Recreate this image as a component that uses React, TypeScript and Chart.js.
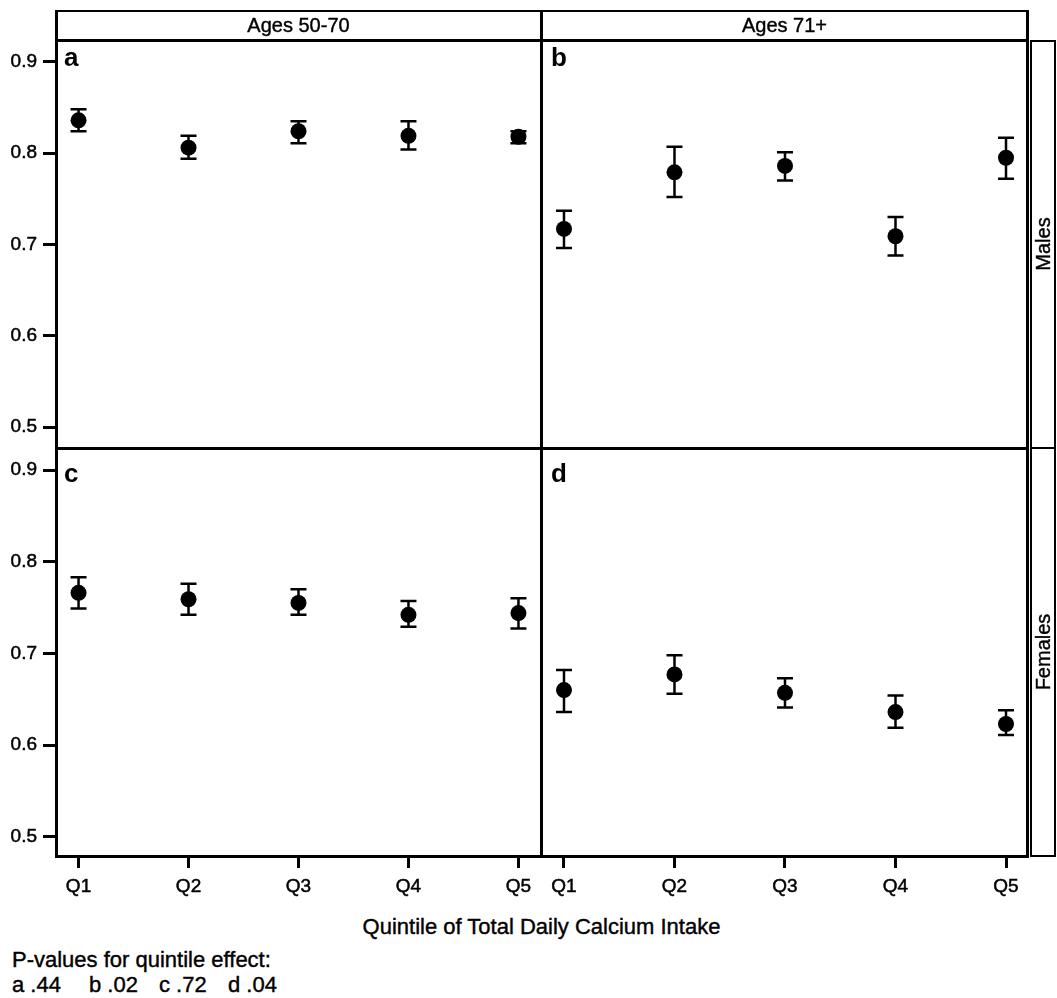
import React, { useEffect, useRef } from "react";
import { Chart, registerables } from "chart.js";

Chart.register(...registerables);

// ---------- data ----------
const quintiles = ["Q1", "Q2", "Q3", "Q4", "Q5"];
const quintilePos = [1, 2, 3, 4, 5];
const yTickValues = [0.5, 0.6, 0.7, 0.8, 0.9];
const ageGroups = ["Ages 50-70", "Ages 71+"];
const sexGroups = ["Males", "Females"];
const panelLetters = ["a", "b", "c", "d"];
const pValues = [".44", ".02", ".72", ".04"];

const meanA = [0.836, 0.806, 0.824, 0.819, 0.818];
const lowA = [0.824, 0.794, 0.811, 0.804, 0.811];
const highA = [0.848, 0.819, 0.835, 0.835, 0.824];

const meanB = [0.717, 0.779, 0.786, 0.709, 0.795];
const lowB = [0.696, 0.752, 0.770, 0.688, 0.772];
const highB = [0.737, 0.807, 0.801, 0.730, 0.817];

const meanC = [0.766, 0.759, 0.755, 0.742, 0.744];
const lowC = [0.749, 0.742, 0.742, 0.729, 0.727];
const highC = [0.783, 0.776, 0.770, 0.757, 0.760];

const meanD = [0.660, 0.677, 0.657, 0.636, 0.623];
const lowD = [0.636, 0.656, 0.641, 0.619, 0.611];
const highD = [0.682, 0.698, 0.673, 0.654, 0.638];

const FONT = "'Liberation Sans', Arial, Helvetica, sans-serif";

const errorBarPlugin = {
  id: "errorBars",
  afterDatasetsDraw(chart: any, _args: any, opts: any) {
    const { ctx } = chart;
    const xs = chart.scales.x;
    const ys = chart.scales.y;
    ctx.save();
    ctx.strokeStyle = "#000";
    ctx.lineWidth = opts.lineWidth;
    const cap = opts.capHalf;
    for (let i = 0; i < opts.xs.length; i++) {
      const px = xs.getPixelForValue(opts.xs[i]);
      const pl = ys.getPixelForValue(opts.low[i]);
      const ph = ys.getPixelForValue(opts.high[i]);
      ctx.beginPath();
      ctx.moveTo(px, pl);
      ctx.lineTo(px, ph);
      ctx.moveTo(px - cap, pl);
      ctx.lineTo(px + cap, pl);
      ctx.moveTo(px - cap, ph);
      ctx.lineTo(px + cap, ph);
      ctx.stroke();
    }
    ctx.restore();
  },
};

type Panel = {
  mean: number[];
  low: number[];
  high: number[];
  left: number;
  top: number;
  width: number;
  height: number;
  showY: boolean;
  showX: boolean;
  xMin: number;
  xMax: number;
  yMin: number;
  yMax: number;
};

const panels: Panel[] = [
  { mean: meanA, low: lowA, high: highA, left: 0, top: 40, width: 541, height: 408, showY: true, showX: false, xMin: 0.795, xMax: 5.205, yMin: 0.477, yMax: 0.924 },
  { mean: meanB, low: lowB, high: highB, left: 541, top: 40, width: 486, height: 408, showY: false, showX: false, xMin: 0.792, xMax: 5.19, yMin: 0.477, yMax: 0.924 },
  { mean: meanC, low: lowC, high: highC, left: 0, top: 448, width: 541, height: 460, showY: true, showX: true, xMin: 0.795, xMax: 5.205, yMin: 0.479, yMax: 0.924 },
  { mean: meanD, low: lowD, high: highD, left: 541, top: 448, width: 486, height: 460, showY: false, showX: true, xMin: 0.792, xMax: 5.19, yMin: 0.479, yMax: 0.924 },
];

const zeroPadding = (scale: any) => {
  scale.paddingTop = 0;
  scale.paddingBottom = 0;
  scale.paddingLeft = 0;
  scale.paddingRight = 0;
};

function makeChart(canvas: HTMLCanvasElement, p: Panel) {
  return new Chart(canvas, {
    type: "scatter",
    data: {
      datasets: [
        {
          data: quintilePos.map((x, i) => ({ x, y: p.mean[i] })),
          pointRadius: 8,
          pointBackgroundColor: "#000",
          pointBorderColor: "#000",
          pointBorderWidth: 0,
          showLine: false,
        },
      ],
    },
    options: {
      animation: false,
      responsive: false,
      devicePixelRatio: 1,
      layout: { padding: 0, autoPadding: false },
      plugins: {
        legend: { display: false },
        tooltip: { enabled: false },
        errorBars: { xs: quintilePos, low: p.low, high: p.high, lineWidth: 2.5, capHalf: 8 },
      } as any,
      scales: {
        x: {
          type: "linear",
          display: p.showX,
          min: p.xMin,
          max: p.xMax,
          afterBuildTicks: (scale: any) => {
            scale.ticks = quintilePos.map((v) => ({ value: v }));
          },
          afterFit: (scale: any) => {
            scale.height = p.showX ? 52 : 0;
            zeroPadding(scale);
          },
          ticks: {
            color: "#000",
            font: { family: FONT, size: 19 },
            textStrokeColor: "#000",
            textStrokeWidth: 0.5,
            padding: 7,
            maxRotation: 0,
            autoSkip: false,
            callback: (v: any) => quintiles[Math.round(Number(v)) - 1],
          },
          grid: { display: true, drawOnChartArea: false, drawTicks: true, tickLength: 12, color: "#000", lineWidth: 3 },
          border: { display: false },
        },
        y: {
          type: "linear",
          display: p.showY,
          min: p.yMin,
          max: p.yMax,
          afterBuildTicks: (scale: any) => {
            scale.ticks = yTickValues.map((v) => ({ value: v }));
          },
          afterFit: (scale: any) => {
            scale.width = p.showY ? 56 : 0;
            zeroPadding(scale);
          },
          ticks: {
            color: "#000",
            font: { family: FONT, size: 19 },
            textStrokeColor: "#000",
            textStrokeWidth: 0.5,
            padding: 6,
            autoSkip: false,
            callback: (v: any) => Number(v).toFixed(1),
          },
          grid: { display: true, drawOnChartArea: false, drawTicks: true, tickLength: 13, color: "#000", lineWidth: 3 },
          border: { display: false },
        },
      },
    } as any,
    plugins: [errorBarPlugin as any],
  });
}

const Line = ({ l, t, w, h }: { l: number; t: number; w: number; h: number }) => (
  <div style={{ position: "absolute", left: l, top: t, width: w, height: h, background: "#000", pointerEvents: "none" }} />
);

export default function App() {
  const refs = useRef<(HTMLCanvasElement | null)[]>([]);

  useEffect(() => {
    const charts = panels.map((p, i) => makeChart(refs.current[i] as HTMLCanvasElement, p));
    return () => charts.forEach((c) => c.destroy());
  }, []);

  const text = (extra: React.CSSProperties): React.CSSProperties => ({
    position: "absolute",
    fontFamily: FONT,
    color: "#000",
    whiteSpace: "pre",
    WebkitTextStroke: "0.4px #000",
    ...extra,
  });

  const letterPos = [
    { l: 64, t: 44 },
    { l: 551, t: 44 },
    { l: 64, t: 460 },
    { l: 551, t: 460 },
  ];
  const pPos = [12, 89, 159, 228];

  return (
    <div style={{ position: "absolute", left: 0, top: 0, width: 1057, height: 998, background: "#fff", overflow: "hidden" }}>
      {panels.map((p, i) => (
        <canvas
          key={i}
          ref={(el) => {
            refs.current[i] = el;
          }}
          width={p.width}
          height={p.height}
          style={{ position: "absolute", left: p.left, top: p.top, width: p.width, height: p.height }}
        />
      ))}

      {/* header strip */}
      <Line l={55} t={10} w={973} h={2} />
      <Line l={55} t={39} w={973} h={3} />
      {/* verticals */}
      <Line l={55} t={10} w={3} h={848} />
      <Line l={540} t={10} w={3} h={848} />
      <Line l={1026} t={10} w={3} h={848} />
      {/* horizontals */}
      <Line l={55} t={447} w={973} h={3} />
      <Line l={55} t={855} w={973} h={3} />
      {/* right strip */}
      <Line l={1030} t={40} w={26} h={2} />
      <Line l={1030} t={40} w={2} h={817} />
      <Line l={1054} t={40} w={2} h={817} />
      <Line l={1030} t={447} w={26} h={2} />
      <Line l={1030} t={855} w={26} h={2} />

      {ageGroups.map((g, i) => (
        <div
          key={g}
          style={text({
            left: i === 0 ? 57 : 543,
            width: 483,
            top: 12,
            height: 27,
            fontSize: 20,
            lineHeight: "27px",
            textAlign: "center",
          })}
        >
          {g}
        </div>
      ))}

      {sexGroups.map((g, i) => (
        <div
          key={g}
          style={text({
            left: 1043,
            top: i === 0 ? 244 : 652,
            fontSize: 20,
            lineHeight: "20px",
            transform: "translate(-50%, -50%) rotate(-90deg)",
          })}
        >
          {g}
        </div>
      ))}

      {panelLetters.map((c, i) => (
        <div
          key={c}
          style={text({ left: letterPos[i].l, top: letterPos[i].t, fontSize: 26, lineHeight: "26px", fontWeight: "bold", WebkitTextStroke: "0px" })}
        >
          {c}
        </div>
      ))}

      <div style={text({ left: 56, width: 971, top: 916, fontSize: 22, lineHeight: "22px", textAlign: "center" })}>
        Quintile of Total Daily Calcium Intake
      </div>

      <div style={text({ left: 12, top: 949, fontSize: 22, lineHeight: "22px" })}>P-values for quintile effect:</div>
      {panelLetters.map((c, i) => (
        <div key={"p" + c} style={text({ left: pPos[i], top: 974, fontSize: 22, lineHeight: "22px" })}>
          {c + " " + pValues[i]}
        </div>
      ))}
    </div>
  );
}
